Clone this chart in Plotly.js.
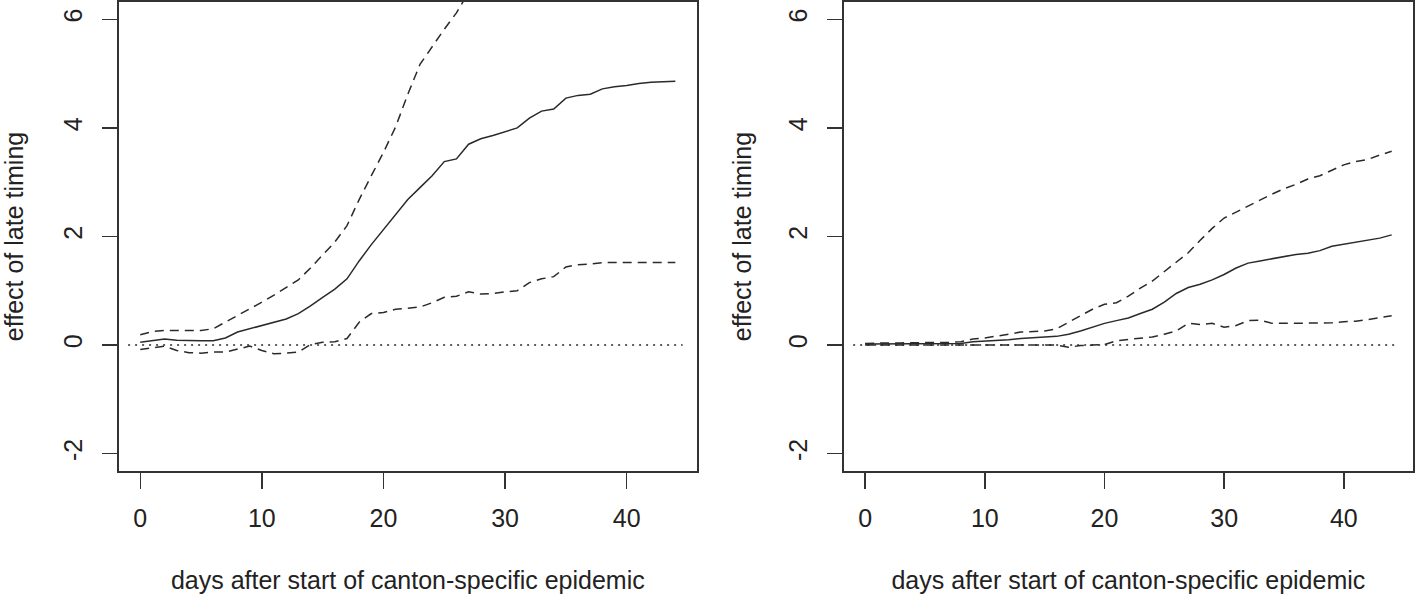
<!DOCTYPE html>
<html>
<head>
<meta charset="utf-8">
<script src="https://cdn.plot.ly/plotly-3.0.1.min.js"></script>
<style>html,body{margin:0;padding:0;background:#fff;}#chart{width:1415px;height:594px;}</style>
</head>
<body>
<div id="chart"></div>
<script>
// days after start of canton-specific epidemic
const days = [0,1,2,3,4,5,6,7,8,9,10,11,12,13,14,15,16,17,18,19,20,21,22,23,24,25,26,27,28,29,30,31,32,33,34,35,36,37,38,39,40,41,42,43,44];

// Left panel: estimate and confidence band
const leftEst = [0.05,0.08,0.11,0.09,0.08,0.08,0.08,0.13,0.24,0.30,0.35,0.41,0.48,0.58,0.72,0.88,1.03,1.22,1.55,1.85,2.12,2.40,2.68,2.90,3.12,3.38,3.43,3.70,3.80,3.86,3.93,4.00,4.18,4.31,4.35,4.55,4.60,4.62,4.72,4.76,4.78,4.82,4.84,4.85,4.86];
const leftUpperDays = [0,1,2,3,4,5,6,7,8,9,10,11,12,13,14,15,16,17,18,19,20,21,22,23,24,25,26,27];
const leftUpper = [0.19,0.25,0.27,0.27,0.27,0.27,0.30,0.42,0.55,0.67,0.79,0.92,1.06,1.20,1.42,1.66,1.90,2.20,2.68,3.12,3.55,4.02,4.62,5.17,5.50,5.82,6.12,6.50];
const leftLower = [-0.08,-0.05,-0.02,-0.10,-0.14,-0.15,-0.13,-0.13,-0.08,-0.02,-0.10,-0.16,-0.15,-0.13,0.01,0.05,0.06,0.12,0.42,0.58,0.60,0.66,0.68,0.70,0.78,0.88,0.90,0.98,0.94,0.95,0.98,1.00,1.15,1.22,1.26,1.44,1.48,1.49,1.52,1.52,1.52,1.52,1.52,1.52,1.52];

// Right panel: estimate and confidence band
const rightEst = [0.02,0.02,0.03,0.03,0.03,0.03,0.03,0.03,0.03,0.06,0.07,0.08,0.10,0.12,0.14,0.15,0.16,0.20,0.26,0.33,0.40,0.45,0.50,0.58,0.66,0.79,0.95,1.06,1.12,1.20,1.30,1.42,1.51,1.55,1.59,1.64,1.67,1.69,1.74,1.82,1.86,1.90,1.93,1.97,2.03];
const rightUpper = [0.03,0.04,0.04,0.04,0.04,0.04,0.05,0.05,0.06,0.11,0.13,0.16,0.20,0.24,0.25,0.26,0.30,0.42,0.54,0.66,0.75,0.78,0.90,1.05,1.18,1.35,1.53,1.70,1.93,2.15,2.34,2.45,2.57,2.67,2.78,2.88,2.96,3.06,3.12,3.22,3.32,3.38,3.42,3.50,3.57];
const rightLower = [0.00,0.00,0.00,0.00,0.00,0.00,0.00,0.00,0.00,0.00,0.00,0.00,0.00,0.00,0.00,0.00,0.00,-0.04,-0.01,0.00,0.01,0.08,0.10,0.12,0.15,0.20,0.26,0.40,0.38,0.40,0.33,0.36,0.45,0.46,0.40,0.40,0.40,0.40,0.40,0.41,0.43,0.44,0.47,0.51,0.54];

// Reference line at zero
const zeroX = [-1, 44.6];
const zeroY = [0, 0];

const xTicks = [0,10,20,30,40];
const yTicks = [-2,0,2,4,6];
const xTitle = 'days after start of canton-specific epidemic';
const yTitle = 'effect of late timing';

const lineCol = '#2a2a2a';
const FONT = '"Liberation Sans", Arial, Helvetica, sans-serif';
const FS = 25;

function tr(x, y, xa, ya, dash, w) {
  return {x: x, y: y, xaxis: xa, yaxis: ya, type: 'scatter', mode: 'lines',
    line: {color: lineCol, width: w, dash: dash}, hoverinfo: 'skip', showlegend: false};
}

const data = [
  tr(zeroX, zeroY, 'x', 'y', '2px,5px', 1.6),
  tr(days, leftEst, 'x', 'y', 'solid', 1.5),
  tr(leftUpperDays, leftUpper, 'x', 'y', '9px,6px', 1.5),
  tr(days, leftLower, 'x', 'y', '9px,6px', 1.5),
  tr(zeroX, zeroY, 'x2', 'y2', '2px,5px', 1.6),
  tr(days, rightEst, 'x2', 'y2', 'solid', 1.5),
  tr(days, rightUpper, 'x2', 'y2', '9px,6px', 1.5),
  tr(days, rightLower, 'x2', 'y2', '9px,6px', 1.5)
];

function xax(domain, anchor) {
  return {domain: domain, anchor: anchor, range: [-1.76, 45.76], tickvals: xTicks, ticktext: xTicks.map(String),
    ticks: 'outside', ticklen: 16, tickwidth: 1.5, tickcolor: '#333', showgrid: false, zeroline: false,
    showline: true, mirror: true, linecolor: '#333', linewidth: 1.8,
    ticklabelstandoff: 8, tickfont: {family: FONT, size: FS, color: '#222'},
    title: {text: xTitle, font: {family: FONT, size: FS, color: '#222'}, standoff: 41}, automargin: false};
}
function yax(domain, anchor, so) {
  return {domain: domain, anchor: anchor, range: [-2.32, 6.32], tickvals: yTicks, ticktext: yTicks.map(String),
    ticks: 'outside', ticklen: 15, tickwidth: 1.5, tickcolor: '#333', showgrid: false, zeroline: false,
    showline: true, mirror: true, linecolor: '#333', linewidth: 1.8, tickangle: -90,
    ticklabelstandoff: 10, tickfont: {family: FONT, size: FS, color: '#222'},
    title: {text: yTitle, font: {family: FONT, size: FS, color: '#222'}, standoff: so}, automargin: false};
}

const layout = {
  width: 1415, height: 594,
  margin: {l: 0, r: 0, t: 0, b: 0},
  paper_bgcolor: '#fff', plot_bgcolor: '#fff',
  font: {family: FONT, size: FS, color: '#222'},
  xaxis: xax([0.0840, 0.4924], 'y'),
  yaxis: yax([0.2071, 0.9966], 'x', 30),
  xaxis2: xax([0.5965, 0.9984], 'y2'),
  yaxis2: yax([0.2071, 0.9966], 'x2', 25)
};

Plotly.newPlot('chart', data, layout, {displayModeBar: false, staticPlot: true});
</script>
</body>
</html>
